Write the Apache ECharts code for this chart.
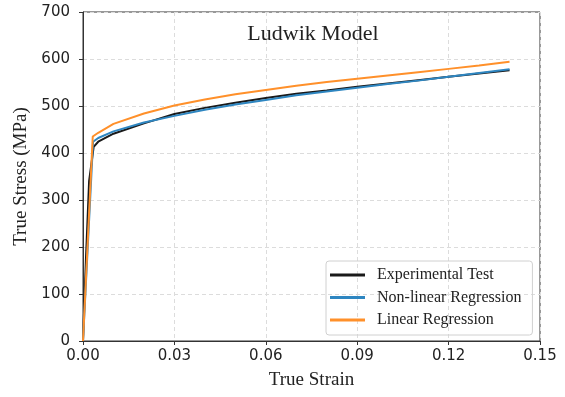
<!DOCTYPE html>
<html>
<head>
<meta charset="utf-8">
<script src="https://cdn.jsdelivr.net/npm/echarts@6/dist/echarts.min.js"></script>
<style>
  html, body { margin: 0; padding: 0; background: #fff; }
  #main { width: 565px; height: 397px; }
</style>
</head>
<body>
<div id="main"></div>
<script>
// Experimental test
var expStrain = [0, 0.001, 0.002, 0.0035, 0.005, 0.01, 0.02, 0.03, 0.04, 0.05, 0.06, 0.07, 0.08, 0.09, 0.10, 0.11, 0.12, 0.13, 0.14];
var expStress = [0, 180, 340, 413, 424, 441, 463, 483, 496, 507, 517, 526, 533, 541, 548, 555, 562, 569, 576];

// Non-linear regression
var nlStrain = [0, 0.0033, 0.005, 0.01, 0.02, 0.03, 0.04, 0.05, 0.06, 0.07, 0.08, 0.09, 0.10, 0.11, 0.12, 0.13, 0.14];
var nlStress = [0, 424, 432, 446, 465, 479, 492, 503, 513, 523, 531, 539, 547, 554, 562, 570, 578];

// Linear regression
var linStrain = [0, 0.0032, 0.005, 0.01, 0.02, 0.03, 0.04, 0.05, 0.06, 0.07, 0.08, 0.09, 0.10, 0.11, 0.12, 0.13, 0.14];
var linStress = [0, 435, 443, 462, 484, 501, 514, 525, 534, 543, 551, 558, 565, 572, 579, 586, 594];

function pairs(xs, ys) {
    return xs.map(function (x, i) { return [x, ys[i]]; });
}

var serif = '"Liberation Serif", "DejaVu Serif", serif';
var sans = '"DejaVu Sans", sans-serif';

var myChart = echarts.init(document.getElementById('main'));
myChart.setOption({
    animation: false,
    title: {
        text: 'Ludwik Model',
        left: 308,
        top: 18,
        textAlign: 'center',
        textStyle: { fontFamily: serif, fontSize: 22, fontWeight: 'normal', color: '#222' }
    },
    legend: {
        orient: 'vertical',
        left: 326,
        top: 261,
        padding: [6, 11, 7, 4],
        itemGap: 6.5,
        itemWidth: 35,
        itemHeight: 3,
        icon: 'rect',
        borderColor: '#d0d0d0',
        borderWidth: 1,
        borderRadius: 3,
        textStyle: { fontFamily: serif, fontSize: 16, color: '#222', padding: [0, 0, 0, 7] },
        data: ['Experimental Test', 'Non-linear Regression', 'Linear Regression']
    },
    grid: {
        left: 83,
        right: 25,
        top: 12,
        bottom: 56,
        show: true,
        borderColor: '#333',
        borderWidth: 1
    },
    xAxis: {
        type: 'value',
        min: 0,
        max: 0.15,
        interval: 0.03,
        name: 'True Strain',
        nameLocation: 'middle',
        nameGap: 30,
        nameTextStyle: { fontFamily: serif, fontSize: 19, color: '#222' },
        axisLine: { lineStyle: { color: '#333' } },
        axisTick: { show: true, length: 4, lineStyle: { color: '#333' } },
        axisLabel: {
            fontFamily: sans, fontSize: 15, color: '#222', margin: 8,
            formatter: function (v) { return v.toFixed(2); }
        },
        splitLine: { show: true, lineStyle: { type: [4, 3], color: '#dcdcdc' } }
    },
    yAxis: {
        type: 'value',
        min: 0,
        max: 700,
        interval: 100,
        name: 'True Stress (MPa)',
        nameLocation: 'middle',
        nameGap: 47,
        nameTextStyle: { fontFamily: serif, fontSize: 19, color: '#222' },
        axisLine: { show: true, lineStyle: { color: '#333' } },
        axisTick: { show: true, length: 4, lineStyle: { color: '#333' } },
        axisLabel: { fontFamily: sans, fontSize: 15, color: '#222', margin: 13 },
        splitLine: { show: true, lineStyle: { type: [4, 3], color: '#dcdcdc' } }
    },
    series: [{
        name: 'Experimental Test',
        type: 'line',
        data: pairs(expStrain, expStress),
        showSymbol: false,
        color: '#1a1a1a',
        lineStyle: { width: 2, color: '#1a1a1a' }
    }, {
        name: 'Non-linear Regression',
        type: 'line',
        data: pairs(nlStrain, nlStress),
        showSymbol: false,
        color: '#2e86c1',
        lineStyle: { width: 2, color: '#2e86c1' }
    }, {
        name: 'Linear Regression',
        type: 'line',
        data: pairs(linStrain, linStress),
        showSymbol: false,
        color: '#ff902a',
        lineStyle: { width: 2, color: '#ff902a' }
    }]
});
</script>
</body>
</html>
